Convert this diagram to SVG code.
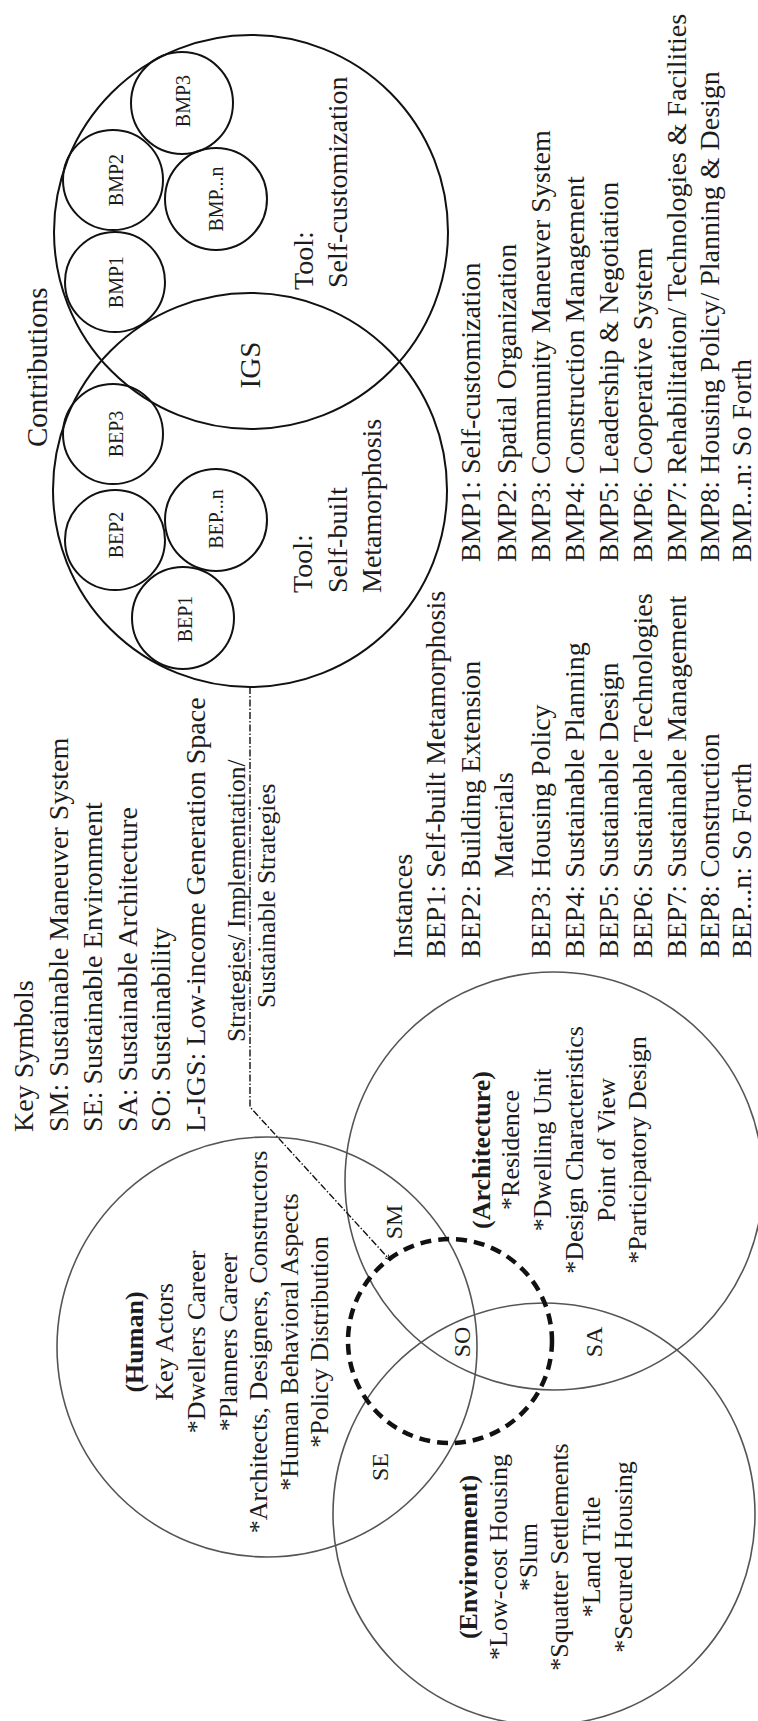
<svg xmlns="http://www.w3.org/2000/svg" width="758" height="1721" viewBox="0 0 758 1721">
<style>
.t{font-family:"Liberation Serif","Times New Roman",serif;fill:#1c1c1c}
.l{font-size:28px}
.s{font-size:20px}
.v{font-size:26px}
.k{font-size:25.5px}
.z{font-size:24px}
.b{font-weight:bold}
.m{text-anchor:middle}
.c{fill:none;stroke:#111;stroke-width:2}
.g{fill:none;stroke:#555;stroke-width:1.6}
</style>
<defs>
<marker id="arr" viewBox="0 0 10 10" refX="9" refY="5" markerWidth="6" markerHeight="6" orient="auto" markerUnits="userSpaceOnUse">
<path d="M0,1 L10,5 L0,9" fill="none" stroke="#111" stroke-width="1.5"/>
</marker>
</defs>
<rect width="758" height="1721" fill="#fff"/>

<g id="self-customization">
<circle class="c" cx="251" cy="232" r="197"/>
<g transform="translate(0,1721) rotate(-90)">
<text class="t l" x="1431" y="313">Tool:</text>
<text class="t l" x="1433" y="347">Self-customization</text>
</g>
</g>

<g id="self-built-metamorphosis">
<circle class="c" cx="250" cy="490" r="197"/>
<g transform="translate(0,1721) rotate(-90)">
<text class="t l" x="1128" y="312">Tool:</text>
<text class="t l" x="1128" y="347">Self-built</text>
<text class="t l" x="1128" y="381">Metamorphosis</text>
</g>
</g>

<g id="igs">
<g transform="translate(0,1721) rotate(-90)">
<text class="t m" style="font-size:29px" x="1356" y="260">IGS</text>
</g>
</g>

<g id="contributions">
<g transform="translate(0,1721) rotate(-90)">
<text class="t" style="font-size:29px" x="1274" y="47">Contributions</text>
</g>
</g>

<g id="bmp1"><circle class="c" cx="115" cy="282" r="50"/>
<g transform="translate(0,1721) rotate(-90)"><text class="t s m" x="1439" y="123">BMP1</text></g></g>
<g id="bmp2"><circle class="c" cx="113" cy="180" r="50"/>
<g transform="translate(0,1721) rotate(-90)"><text class="t s m" x="1541" y="123">BMP2</text></g></g>
<g id="bmp3"><circle class="c" cx="182" cy="103" r="51"/>
<g transform="translate(0,1721) rotate(-90)"><text class="t s m" x="1620" y="190">BMP3</text></g></g>
<g id="bmpn"><circle class="c" cx="216" cy="199" r="51"/>
<g transform="translate(0,1721) rotate(-90)"><text class="t s m" x="1522" y="223">BMP...n</text></g></g>

<g id="bep1"><circle class="c" cx="183" cy="618" r="51"/>
<g transform="translate(0,1721) rotate(-90)"><text class="t s m" x="1102" y="192">BEP1</text></g></g>
<g id="bep2"><circle class="c" cx="115" cy="540" r="50"/>
<g transform="translate(0,1721) rotate(-90)"><text class="t s m" x="1186" y="123">BEP2</text></g></g>
<g id="bep3"><circle class="c" cx="113" cy="434" r="50"/>
<g transform="translate(0,1721) rotate(-90)"><text class="t s m" x="1287" y="123">BEP3</text></g></g>
<g id="bepn"><circle class="c" cx="216" cy="520" r="51"/>
<g transform="translate(0,1721) rotate(-90)"><text class="t s m" x="1202" y="223">BEP...n</text></g></g>

<g id="bmp-list">
<g transform="translate(0,1721) rotate(-90)">
<text class="t l" x="1159" y="480">BMP1: Self-customization</text>
<text class="t l" x="1159" y="516">BMP2: Spatial Organization</text>
<text class="t l" x="1159" y="550">BMP3: Community Maneuver System</text>
<text class="t l" x="1159" y="584">BMP4: Construction Management</text>
<text class="t l" x="1159" y="618">BMP5: Leadership &amp; Negotiation</text>
<text class="t l" x="1159" y="652">BMP6: Cooperative System</text>
<text class="t l" x="1159" y="686">BMP7: Rehabilitation/ Technologies &amp; Facilities</text>
<text class="t l" x="1159" y="719">BMP8: Housing Policy/ Planning &amp; Design</text>
<text class="t l" x="1159" y="751">BMP...n: So Forth</text>
</g>
</g>

<g id="bep-list">
<g transform="translate(0,1721) rotate(-90)">
<text class="t l" x="763" y="412">Instances</text>
<text class="t l" x="763" y="445">BEP1: Self-built Metamorphosis</text>
<text class="t l" x="763" y="480">BEP2: Building Extension</text>
<text class="t l" x="843" y="513">Materials</text>
<text class="t l" x="763" y="550">BEP3: Housing Policy</text>
<text class="t l" x="763" y="584">BEP4: Sustainable Planning</text>
<text class="t l" x="763" y="618">BEP5: Sustainable Design</text>
<text class="t l" x="763" y="652">BEP6: Sustainable Technologies</text>
<text class="t l" x="763" y="686">BEP7: Sustainable Management</text>
<text class="t l" x="763" y="719">BEP8: Construction</text>
<text class="t l" x="763" y="751">BEP...n: So Forth</text>
</g>
</g>

<g id="key-symbols">
<g transform="translate(0,1721) rotate(-90)">
<text class="t l" x="589" y="33">Key Symbols</text>
<text class="t l" x="589" y="68">SM: Sustainable Maneuver System</text>
<text class="t l" x="589" y="102">SE: Sustainable Environment</text>
<text class="t l" x="589" y="137">SA: Sustainable Architecture</text>
<text class="t l" x="589" y="170">SO: Sustainability</text>
<text class="t l" x="589" y="205">L-IGS: Low-income Generation Space</text>
</g>
</g>

<g id="strategies-label">
<g transform="translate(0,1721) rotate(-90)">
<text class="t k" x="679" y="245">Strategies/ Implementation/</text>
<text class="t k" x="713" y="275">Sustainable Strategies</text>
</g>
</g>

<g id="human">
<circle class="g" cx="267" cy="1347" r="210"/>
<g transform="translate(0,1721) rotate(-90)">
<text class="t v m b" x="379" y="143">(Human)</text>
<text class="t v m" x="379" y="173">Key Actors</text>
<text class="t v m" x="379" y="205">*Dwellers Career</text>
<text class="t v m" x="379" y="237">*Planners Career</text>
<text class="t v m" x="379" y="267">*Architects, Designers, Constructors</text>
<text class="t v m" x="379" y="298">*Human Behavioral Aspects</text>
<text class="t v m" x="379" y="328">*Policy Distribution</text>
</g>
</g>

<g id="architecture">
<circle class="g" cx="554" cy="1181" r="209"/>
<g transform="translate(0,1721) rotate(-90)">
<text class="t v m b" x="571" y="490">(Architecture)</text>
<text class="t v m" x="571" y="519">*Residence</text>
<text class="t v m" x="571" y="551">*Dwelling Unit</text>
<text class="t v m" x="571" y="583">*Design Characteristics</text>
<text class="t v m" x="571" y="615">Point of View</text>
<text class="t v m" x="571" y="646">*Participatory Design</text>
</g>
</g>

<g id="environment">
<circle class="g" cx="544" cy="1514" r="211"/>
<g transform="translate(0,1721) rotate(-90)">
<text class="t v m b" x="164" y="477">(Environment)</text>
<text class="t v m" x="164" y="507">*Low-cost Housing</text>
<text class="t v m" x="164" y="537">*Slum</text>
<text class="t v m" x="164" y="568">*Squatter Settlements</text>
<text class="t v m" x="164" y="600">*Land Title</text>
<text class="t v m" x="164" y="632">*Secured Housing</text>
</g>
</g>

<g id="sustainability-core">
<circle cx="450" cy="1341" r="102" fill="none" stroke="#111" stroke-width="4.5" stroke-dasharray="11 7"/>
</g>

<g id="region-labels">
<g transform="translate(0,1721) rotate(-90)">
<text class="t z m" x="499" y="402">SM</text>
<text class="t z m" x="379" y="470">SO</text>
<text class="t z m" x="379" y="602">SA</text>
<text class="t z m" x="254" y="388">SE</text>
</g>
</g>

<g id="connectors">
<path d="M250,687 L250,1107 L390,1260" fill="none" stroke="#111" stroke-width="1.4" stroke-dasharray="7 2 1.5 2" marker-end="url(#arr)"/>
</g>
</svg>
